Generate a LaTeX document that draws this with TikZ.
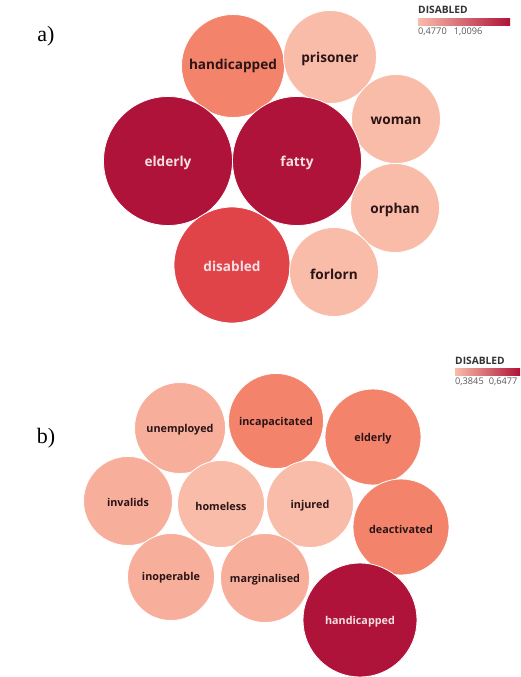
\documentclass[tikz,border=0pt]{standalone}
\usepackage{fontspec}
\newfontfamily\bubblefont{Open Sans}
\newfontfamily\panelfont{Liberation Serif}
\usetikzlibrary{calc}
\definecolor{darkred}{HTML}{AF1339}
\definecolor{midred}{HTML}{E04348}
\definecolor{salmon}{HTML}{F3846B}
\definecolor{pinkA}{HTML}{F7AF9B}
\definecolor{pinkB}{HTML}{F9BCA9}
\definecolor{inkdark}{HTML}{2B1416}
\definecolor{inklight}{HTML}{F6E0E3}
\tikzset{
  bubble/.style={circle, draw=white, line width=0.8pt, inner sep=0pt},
  bigtxt/.style={font=\bubblefont\bfseries\fontsize{13.6}{16}\selectfont},
  smalltxt/.style={font=\bubblefont\bfseries\fontsize{10.8}{13}\selectfont},
  panel/.style={font=\panelfont\fontsize{22}{26}\selectfont, anchor=center},
  legtitle/.style={font=\bubblefont\bfseries\fontsize{10.2}{12}\selectfont, text=black!80, inner sep=0pt, anchor=west},
  legval/.style={font=\bubblefont\fontsize{9.2}{11}\selectfont, text=black!65, inner sep=0pt, anchor=west},
}
\begin{document}
\begin{tikzpicture}[x=1pt,y=-1pt]
\useasboundingbox (0,0) rectangle (520,677);
\fill[white] (0,0) rectangle (520,677);

% ---- panel a ----
\node[panel] (la) at (46,36) {a)};
\node[bubble, fill=salmon,  minimum size=103pt] (ahand) at (233,66) {};
\node[bubble, fill=pinkB,   minimum size=93pt]  (apris) at (330,57) {};
\node[bubble, fill=pinkB,   minimum size=89pt]  (awoman) at (396,119) {};
\node[bubble, fill=darkred, minimum size=129pt] (aeld) at (168,161) {};
\node[bubble, fill=darkred, minimum size=129pt] (afat) at (297,161) {};
\node[bubble, fill=pinkB,   minimum size=89pt]  (aorph) at (395,208) {};
\node[bubble, fill=midred,  minimum size=116pt] (adis) at (232,265) {};
\node[bubble, fill=pinkB,   minimum size=89pt]  (aforl) at (334,272) {};
\begin{scope}[every node/.style={bigtxt}]
\node[text=inkdark]  at ($(ahand)+(0,0)$) {handicapped};
\node[text=inkdark]  at ($(apris)+(0,2)$) {prisoner};
\node[text=inkdark]  at ($(awoman)+(0,2)$) {woman};
\node[text=inklight] at ($(aeld)+(0,2)$) {elderly};
\node[text=inklight] at ($(afat)+(0,2)$) {fatty};
\node[text=inkdark]  at ($(aorph)+(0,2)$) {orphan};
\node[text=inklight] at ($(adis)+(0,1)$) {disabled};
\node[text=inkdark]  at ($(aforl)+(0,2)$) {forlorn};
\end{scope}
% legend a
\node[legtitle] (lta) at (418,10) {DISABLED};
\shade[left color=pinkB, right color=darkred] (418,19) rectangle (510,26);
\node[legval] (lva) at (418,32) {0,4770\hspace{7pt}1,0096};

% ---- panel b ----
\node[panel] (lb) at (46,438) {b)};
\node[bubble, fill=pinkA,   minimum size=91pt]  (bunem) at (180,428) {};
\node[bubble, fill=salmon,  minimum size=95pt]  (binc) at (276,421) {};
\node[bubble, fill=salmon,  minimum size=96pt]  (beld) at (373,437) {};
\node[bubble, fill=pinkA,   minimum size=89pt]  (binv) at (128,501) {};
\node[bubble, fill=pinkB,   minimum size=87pt]  (bhome) at (221,504) {};
\node[bubble, fill=pinkB,   minimum size=87pt]  (binj) at (310,504) {};
\node[bubble, fill=salmon,  minimum size=96pt]  (bdeac) at (401,527) {};
\node[bubble, fill=pinkA,   minimum size=87pt]  (binop) at (171,577) {};
\node[bubble, fill=pinkA,   minimum size=89pt]  (bmarg) at (265,578) {};
\node[bubble, fill=darkred, minimum size=114pt] (bhand) at (360,620) {};
\begin{scope}[every node/.style={smalltxt}]
\node[text=inkdark]  at ($(bunem)+(0,2)$) {unemployed};
\node[text=inkdark]  at ($(binc)+(0,2)$) {incapacitated};
\node[text=inkdark]  at ($(beld)+(0,2)$) {elderly};
\node[text=inkdark]  at ($(binv)+(0,1)$) {invalids};
\node[text=inkdark]  at ($(bhome)+(0,2)$) {homeless};
\node[text=inkdark]  at ($(binj)+(0,2)$) {injured};
\node[text=inkdark]  at ($(bdeac)+(0,2)$) {deactivated};
\node[text=inkdark]  at ($(binop)+(0,1)$) {inoperable};
\node[text=inkdark]  at ($(bmarg)+(0,2)$) {marginalised};
\node[text=inklight] at ($(bhand)+(0,2)$) {handicapped};
\end{scope}
% legend b
\node[legtitle] (ltb) at (455,361) {DISABLED};
\shade[left color=pinkB, right color=darkred] (455,368) rectangle (520,375);
\node[legval] (lvb) at (455,382) {0,3845\hspace{5pt}0,6477};
\end{tikzpicture}
\end{document}
